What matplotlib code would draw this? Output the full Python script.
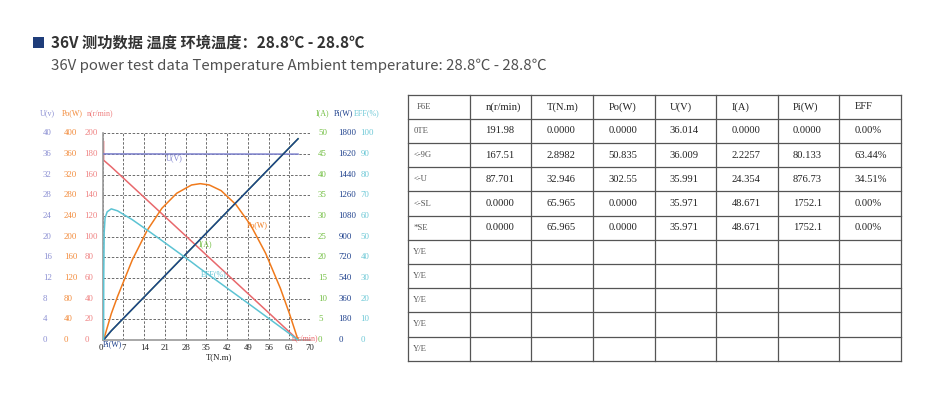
import matplotlib
matplotlib.use('Agg')
import matplotlib.pyplot as plt
from matplotlib.patches import Rectangle
from matplotlib.transforms import blended_transform_factory

W, H = 943, 399

# ---- curve data (torque T in N.m on x) ----
n_t = [0.3, 0.3, 2.8982, 32.946, 65.965]
n_val = [191.98, 174.0, 167.51, 87.701, 0.0]

u_t = [0.3, 2.8982, 32.946, 65.965]
u_val = [36.014, 36.009, 35.991, 35.971]

po_t = [0.3, 2.8982, 5, 10, 15, 20, 25, 30, 32.946, 36, 40, 45, 50, 55, 60, 63, 65.965]
po_val = [0, 50.835, 84, 155, 212, 255, 284, 300, 302.55, 300, 289, 262, 222, 168, 100, 52, 0]

i_t = [0.3, 2.8982, 32.946, 65.965]
i_val = [0, 2.2257, 24.354, 48.671]

pi_t = [0.3, 2.8982, 32.946, 65.965]
pi_val = [0, 80.133, 876.73, 1752.1]

eff_t = [0.3, 0.35, 0.5, 0.8, 1.5, 2.8982, 5, 10, 15, 20, 25, 30, 32.946, 40, 50, 60, 65.965]
eff_val = [0, 30, 52, 59, 62, 63.44, 62.5, 58.2, 53.2, 48.1, 42.9, 37.7, 34.51, 27.2, 16.8, 6.3, 0]

x_ticks = [0, 7, 14, 21, 28, 35, 42, 49, 56, 63, 70]

# ---- table data ----
tbl_header = ["F6E", "n(r/min)", "T(N.m)", "Po(W)", "U(V)", "I(A)", "Pi(W)", "EFF"]
row_labels = ["0TE", "<-9G", "<-U", "<-SL", "*SE", "Y/E", "Y/E", "Y/E", "Y/E", "Y/E"]
row_values = [
    ["191.98", "0.0000", "0.0000", "36.014", "0.0000", "0.0000", "0.00%"],
    ["167.51", "2.8982", "50.835", "36.009", "2.2257", "80.133", "63.44%"],
    ["87.701", "32.946", "302.55", "35.991", "24.354", "876.73", "34.51%"],
    ["0.0000", "65.965", "0.0000", "35.971", "48.671", "1752.1", "0.00%"],
    ["0.0000", "65.965", "0.0000", "35.971", "48.671", "1752.1", "0.00%"],
]

title_cn = "36V 测功数据 温度 环境温度：28.8℃ - 28.8℃"
title_en = "36V power test data Temperature Ambient temperature: 28.8℃ - 28.8℃"

c_u, c_u_txt = '#7c80cc', '#8a8ed2'
c_po, c_po_txt = '#f07a1c', '#f28a3a'
c_n, c_n_txt = '#e8686c', '#ef8080'
c_i = '#72bf42'
c_pi = '#1c3f8c'
c_eff, c_eff_txt = '#5cc3d3', '#6cc8d6'

serif = ['Liberation Serif', 'DejaVu Serif']
cjk = ['Noto Sans CJK SC', 'DejaVu Sans']

fig = plt.figure(figsize=(W / 100, H / 100), dpi=100)


def fx(px):
    return px / W


def fy(py):
    return 1 - py / H


# header
fig.add_artist(Rectangle((fx(33), fy(48)), 11 / W, 11 / H, transform=fig.transFigure,
                         color='#1f3d7a', lw=0))
fig.text(fx(51), fy(43), title_cn, family=cjk, fontsize=11, fontweight='bold',
         color='#333333', va='center')
fig.text(fx(51), fy(66), title_en, family=cjk, fontsize=10.8,
         color='#505050', va='center')

# chart
left, right, top, bottom = 102.7, 310, 133.3, 340
ax = fig.add_axes([fx(left), fy(bottom), (right - left) / W, (bottom - top) / H])
ax.set_xlim(0, 70)
ax.set_ylim(0, 200)
ax.set_xticks(x_ticks)
ax.set_yticks(range(0, 201, 20))
ax.grid(True, ls=(0, (3, 2)), color='#555555', lw=0.6)
ax.tick_params(length=0, labelleft=False, labelbottom=False)
for s in ['top', 'right']:
    ax.spines[s].set_visible(False)
for s in ['left', 'bottom']:
    ax.spines[s].set_color('#9a9a9a')
    ax.spines[s].set_linewidth(1.2)

# x tick labels, the 0 sits just left of the axis line
xtr = blended_transform_factory(ax.transData, ax.transAxes)
for t in x_ticks:
    ax.text(t, -0.04, str(t), transform=xtr, family=serif, fontsize=6.3,
            color='#222222', ha='right' if t == 0 else 'center', va='center',
            clip_on=False)
ax.text((219 - left) / (right - left), -0.085, 'T(N.m)', transform=ax.transAxes,
        family=serif, fontsize=6.3, color='#222222', ha='center', va='center')


def twin(lim):
    t = ax.twinx()
    t.set_ylim(0, lim)
    t.axis('off')
    return t


ax_u = twin(40)
ax_po = twin(400)
ax_i = twin(50)
ax_pi = twin(1800)
ax_eff = twin(100)

lw = 1.1
ax_u.plot(u_t, u_val, color=c_u, lw=lw)
ax.plot(n_t, n_val, color=c_n, lw=lw)
ax_eff.plot(eff_t, eff_val, color=c_eff, lw=lw)
ax_po.plot(po_t, po_val, color=c_po, lw=lw)
ax_i.plot(i_t, i_val, color=c_i, lw=lw)
ax_pi.plot(pi_t, pi_val, color=c_pi, lw=lw)

# curve names
lab = dict(family=serif, fontsize=5.8, ha='center', va='center', clip_on=False)
ax_u.text(24.1, 35.2, 'U(V)', color=c_u, **lab)
ax_po.text(52.2, 222.5, 'Po(W)', color=c_po, **lab)
ax_i.text(34.8, 23.1, 'I(A)', color=c_i, **lab)
ax_eff.text(37.4, 31.8, 'EFF(%)', color=c_eff, **lab)
ax_pi.text(3.4, -35, 'Pi(W)', color=c_pi, **lab)
ax.text(68.4, 1.6, 'n(r/min)', color=c_n, **lab)

# tick columns
columns = [
    (ax_u, range(0, 41, 4), 42.7, 'U(v)', 40, c_u_txt),
    (ax_po, range(0, 401, 40), 64, 'Po(W)', 61.7, c_po_txt),
    (ax, range(0, 201, 20), 84.5, 'n(r/min)', 86.7, c_n_txt),
    (ax_i, range(0, 51, 5), 318, 'I(A)', 316, c_i),
    (ax_pi, range(0, 1801, 180), 338.5, 'Pi(W)', 334, c_pi),
    (ax_eff, range(0, 101, 10), 360.5, 'EFF(%)', 353.5, c_eff_txt),
]
for a, vals, xpx, name, namepx, col in columns:
    tr = blended_transform_factory(fig.transFigure, a.transData)
    for v in vals:
        a.text(fx(xpx), v, str(v), transform=tr, family=serif, fontsize=6.3,
               color=col, ha='left', va='center', clip_on=False)
    fig.text(fx(namepx), fy(113), name, family=serif, fontsize=5.8, color=col,
             ha='left', va='center')

# table
t_left, t_right, t_top, t_bottom = 408.3, 900.7, 94.7, 360.7
n_cols = len(tbl_header)
n_rows = len(row_labels) + 1
tax = fig.add_axes([fx(t_left), fy(t_bottom), (t_right - t_left) / W, (t_bottom - t_top) / H])
tax.set_xlim(0, n_cols)
tax.set_ylim(n_rows, 0)
tax.axis('off')
for r in range(n_rows + 1):
    tax.plot([0, n_cols], [r, r], color='#555555', lw=0.9, clip_on=False,
             solid_capstyle='projecting')
for c in range(n_cols + 1):
    tax.plot([c, c], [0, n_rows], color='#555555', lw=0.9, clip_on=False,
             solid_capstyle='projecting')

small = dict(family=serif, fontsize=6.2, color='#555555', ha='left', va='center')
cell = dict(family=serif, fontsize=7.6, color='#222222', ha='left', va='center')
tax.text(0.13, 0.5, tbl_header[0], **small)
for c, h in enumerate(tbl_header[1:], start=1):
    tax.text(c + 0.25, 0.5, h, **cell)
for r, name in enumerate(row_labels, start=1):
    tax.text(0.08, r + 0.5, name, **small)
for r, row in enumerate(row_values, start=1):
    for c, v in enumerate(row, start=1):
        tax.text(c + 0.25, r + 0.5, v, **cell)

fig.savefig('out.png', dpi=100)
